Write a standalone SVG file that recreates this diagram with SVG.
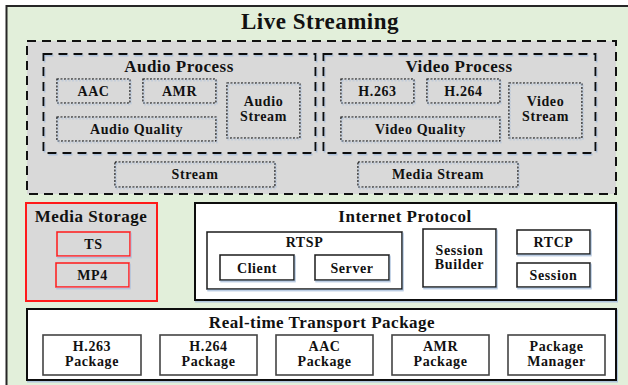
<svg xmlns="http://www.w3.org/2000/svg" width="628" height="385" viewBox="0 0 628 385">
<defs>
<filter id="sh" x="-10%" y="-10%" width="130%" height="140%">
<feDropShadow dx="1" dy="1.5" stdDeviation="0.4" flood-color="#a9bfdc" flood-opacity="0.9"/>
</filter>
</defs>
<style>
text{font-family:"Liberation Serif","Times New Roman",serif;font-weight:bold;fill:#111;text-anchor:middle}
.t0{font-size:23px;letter-spacing:0.5px}
.t1{font-size:17px;letter-spacing:0.5px}
.t2{font-size:14px;letter-spacing:0.6px}
.dash{fill:none;stroke:#111;stroke-width:2;stroke-dasharray:9 6}
.dot{fill:none;stroke:#000;stroke-width:1.2;stroke-dasharray:2 1.5}
.solid{fill:#fff;stroke:#1a1a1a;stroke-width:1.5}
.big{fill:#fff;stroke:#111;stroke-width:2}
.red{fill:#d9d9d9;stroke:#ff1a1a;stroke-width:1.5}
.pkg{fill:#fff;stroke:#444;stroke-width:1.6}
</style>
<rect x="6.5" y="6" width="640" height="400" fill="#e2efda" stroke="#262626" stroke-width="2"/>
<text class="t0" x="320" y="29">Live Streaming</text>

<g id="live-streaming">
<rect x="27" y="41" width="589" height="153" fill="#d9d9d9"/>
<rect class="dash" x="27" y="41" width="589" height="153"/>
</g>

<g id="audio-process">
<rect class="dash" x="43.5" y="54" width="272" height="99" filter="url(#sh)"/>
<text class="t1" x="179" y="72">Audio Process</text>
</g>
<g id="aac"><rect class="dot" x="57" y="79" width="73" height="24" filter="url(#sh)"/><text class="t2" x="93.5" y="96">AAC</text></g>
<g id="amr"><rect class="dot" x="143" y="79" width="73" height="24" filter="url(#sh)"/><text class="t2" x="179.5" y="96">AMR</text></g>
<g id="audio-stream"><rect class="dot" x="227" y="83" width="73" height="55" filter="url(#sh)"/><text class="t2" x="263.5" y="106">Audio</text><text class="t2" x="263.5" y="121">Stream</text></g>
<g id="audio-quality"><rect class="dot" x="57" y="117" width="159" height="24" filter="url(#sh)"/><text class="t2" x="136.5" y="134">Audio Quality</text></g>

<g id="video-process">
<rect class="dash" x="323.5" y="54" width="272" height="99" filter="url(#sh)"/>
<text class="t1" x="459" y="72">Video Process</text>
</g>
<g id="h263"><rect class="dot" x="341" y="79" width="73" height="24" filter="url(#sh)"/><text class="t2" x="377.5" y="96">H.263</text></g>
<g id="h264"><rect class="dot" x="427" y="79" width="73" height="24" filter="url(#sh)"/><text class="t2" x="463.5" y="96">H.264</text></g>
<g id="video-stream"><rect class="dot" x="509" y="83" width="73" height="55" filter="url(#sh)"/><text class="t2" x="545.5" y="106">Video</text><text class="t2" x="545.5" y="121">Stream</text></g>
<g id="video-quality"><rect class="dot" x="341" y="117" width="159" height="24" filter="url(#sh)"/><text class="t2" x="420.5" y="134">Video Quality</text></g>

<g id="stream"><rect class="dot" x="115" y="162" width="160" height="25" filter="url(#sh)"/><text class="t2" x="195" y="179">Stream</text></g>
<g id="media-stream"><rect class="dot" x="358" y="162" width="160" height="25" filter="url(#sh)"/><text class="t2" x="438" y="179">Media Stream</text></g>

<g id="media-storage">
<rect x="26" y="203" width="131" height="98" fill="#d9d9d9" stroke="#ff1a1a" stroke-width="2"/>
<text class="t1" x="91" y="222">Media Storage</text>
</g>
<g id="ts"><rect class="red" x="57" y="232" width="73" height="24" filter="url(#sh)"/><text class="t2" x="93.5" y="249">TS</text></g>
<g id="mp4"><rect class="red" x="56" y="263" width="73" height="24" filter="url(#sh)"/><text class="t2" x="92.5" y="280">MP4</text></g>

<g id="internet-protocol">
<rect class="big" x="195" y="203" width="421" height="97" filter="url(#sh)"/>
<text class="t1" x="405" y="222">Internet Protocol</text>
</g>
<g id="rtsp">
<rect class="solid" x="207" y="232" width="195" height="57" filter="url(#sh)"/>
<text class="t2" x="304.5" y="247">RTSP</text>
</g>
<g id="client"><rect class="solid" x="220" y="255" width="74" height="25" filter="url(#sh)"/><text class="t2" x="257" y="273">Client</text></g>
<g id="server"><rect class="solid" x="315" y="255" width="74" height="25" filter="url(#sh)"/><text class="t2" x="352" y="273">Server</text></g>
<g id="session-builder"><rect class="solid" x="423" y="229" width="73" height="58" filter="url(#sh)"/><text class="t2" x="459.5" y="255">Session</text><text class="t2" x="459.5" y="269">Builder</text></g>
<g id="rtcp"><rect class="solid" x="517" y="230" width="73" height="24" filter="url(#sh)"/><text class="t2" x="553.5" y="247">RTCP</text></g>
<g id="session"><rect class="solid" x="517" y="263" width="73" height="24" filter="url(#sh)"/><text class="t2" x="553.5" y="280">Session</text></g>

<g id="rtp">
<rect class="big" x="27" y="309" width="589" height="71" filter="url(#sh)"/>
<text class="t1" x="322" y="328">Real-time Transport Package</text>
</g>
<g id="h263-package"><rect class="pkg" x="43" y="335" width="98" height="40"/><text class="t2" x="92" y="351">H.263</text><text class="t2" x="92" y="366">Package</text></g>
<g id="h264-package"><rect class="pkg" x="160" y="335" width="97" height="40"/><text class="t2" x="208.5" y="351">H.264</text><text class="t2" x="208.5" y="366">Package</text></g>
<g id="aac-package"><rect class="pkg" x="276" y="335" width="97" height="40"/><text class="t2" x="324.5" y="351">AAC</text><text class="t2" x="324.5" y="366">Package</text></g>
<g id="amr-package"><rect class="pkg" x="392" y="335" width="97" height="40"/><text class="t2" x="440.5" y="351">AMR</text><text class="t2" x="440.5" y="366">Package</text></g>
<g id="package-manager"><rect class="pkg" x="508" y="335" width="97" height="40"/><text class="t2" x="556.5" y="351">Package</text><text class="t2" x="556.5" y="366">Manager</text></g>

<g id="connectors"></g>
</svg>
